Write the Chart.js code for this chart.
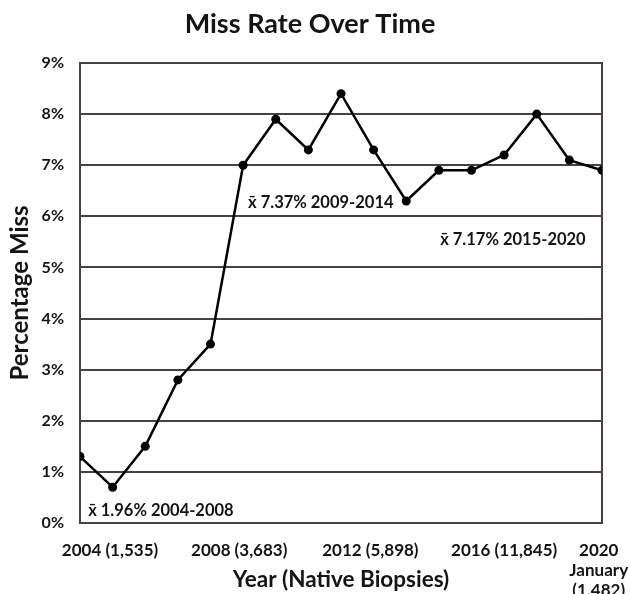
<!DOCTYPE html>
<html>
<head>
<meta charset="utf-8">
<script src="https://cdn.jsdelivr.net/npm/chart.js@4"></script>
<style>
  body { margin: 0; background: #fff; }
</style>
</head>
<body>
<canvas id="missChart" width="630" height="594"></canvas>
<script>
// Data
const years = [2004, 2005, 2006, 2007, 2008, 2009, 2010, 2011, 2012, 2013, 2014, 2015, 2016, 2017, 2018, 2019, 2020];
const missRate = [1.3, 0.7, 1.5, 2.8, 3.5, 7.0, 7.9, 7.3, 8.4, 7.3, 6.3, 6.9, 6.9, 7.2, 8.0, 7.1, 6.9];
const yTicks = [0, 1, 2, 3, 4, 5, 6, 7, 8, 9];
const xTickLabels = ['2004 (1,535)', '2008 (3,683)', '2012 (5,898)', '2016 (11,845)', ['2020', 'January', '(1,482)']];
// where each x label sits (in years), the figure places them off the points
const xTickAt = [2004.92, 2008.88, 2012.9, 2017.0, 2019.9];
const meanNotes = ['x\u0304 1.96% 2004-2008', 'x\u0304 7.37% 2009-2014', 'x\u0304 7.17% 2015-2020'];

const gridColor = '#48413e';
const textColor = '#141414';
const fontFamily = 'Lato, "Open Sans", sans-serif';

// mean annotations, anchored in data coordinates
const meanLabels = {
  id: 'meanLabels',
  afterDatasetsDraw(chart) {
    const { ctx, scales } = chart;
    const anchors = [[2004.25, 0.25], [2009.15, 6.26], [2015.04, 5.54]];
    ctx.save();
    ctx.font = 'bold 16.5px ' + fontFamily;
    ctx.fillStyle = textColor;
    ctx.textAlign = 'left';
    ctx.textBaseline = 'middle';
    meanNotes.forEach((txt, i) => {
      const x = scales.x.getPixelForValue(anchors[i][0]);
      const y = scales.y.getPixelForValue(anchors[i][1]);
      ctx.fillText(txt, x, y);
    });
    ctx.restore();
  }
};

new Chart(document.getElementById('missChart'), {
  type: 'line',
  data: {
    datasets: [{
      label: 'Miss rate',
      data: years.map((yr, i) => ({ x: yr, y: missRate[i] })),
      borderColor: '#000',
      backgroundColor: '#000',
      borderWidth: 2.5,
      pointRadius: 4.5,
      pointBackgroundColor: '#000',
      pointBorderWidth: 0,
      tension: 0
    }]
  },
  options: {
    responsive: false,
    animation: false,
    layout: { padding: { left: 0, right: 10, top: 0, bottom: 0 } },
    plugins: {
      legend: { display: false },
      tooltip: { enabled: false },
      title: {
        display: true,
        text: 'Miss Rate Over Time',
        color: textColor,
        font: { family: fontFamily, size: 27, weight: 'bold', lineHeight: 1.2 },
        padding: { top: 8, bottom: 22.6 }
      }
    },
    scales: {
      x: {
        type: 'linear',
        min: years[0],
        max: years[years.length - 1],
        afterBuildTicks: (s) => { s.ticks = xTickAt.map(v => ({ value: v })); },
        afterFit: (s) => {
          s.height = 71;
          // labels may run past the frame, as in the figure
          s.paddingLeft = 0;
          s.paddingRight = 0;
        },
        grid: { display: false },
        border: { display: false },
        ticks: {
          autoSkip: false,
          maxRotation: 0,
          padding: 9,
          color: textColor,
          font: { family: fontFamily, size: 17, weight: 'bold', lineHeight: 1.18 },
          callback: (v, i) => xTickLabels[i]
        },
        title: {
          display: true,
          text: 'Year (Native Biopsies)',
          color: textColor,
          font: { family: fontFamily, size: 22.5, weight: 'bold', lineHeight: 1.2 },
          padding: { top: 0, bottom: 0.5 }
        }
      },
      y: {
        min: 0,
        max: 9,
        afterBuildTicks: (s) => { s.ticks = yTicks.map(v => ({ value: v })); },
        afterFit: (s) => { s.width = 80; },
        grid: { color: gridColor, lineWidth: 2, drawTicks: false },
        border: { color: gridColor, width: 2 },
        ticks: {
          padding: 16,
          color: textColor,
          font: { family: fontFamily, size: 16, weight: 'bold' },
          callback: (v) => v + '%'
        },
        title: {
          display: true,
          text: 'Percentage Miss',
          color: textColor,
          font: { family: fontFamily, size: 24, weight: 'bold', lineHeight: 1.2 },
          padding: { top: 6, bottom: 0 }
        }
      },
      // empty right axis: gives the right frame line and keeps the title centred like the figure
      yRight: {
        position: 'right',
        min: 0,
        max: 9,
        afterFit: (s) => { s.width = 18; },
        grid: { display: false },
        ticks: { display: false },
        border: { color: gridColor, width: 2 }
      }
    }
  },
  plugins: [meanLabels]
});
</script>
</body>
</html>
